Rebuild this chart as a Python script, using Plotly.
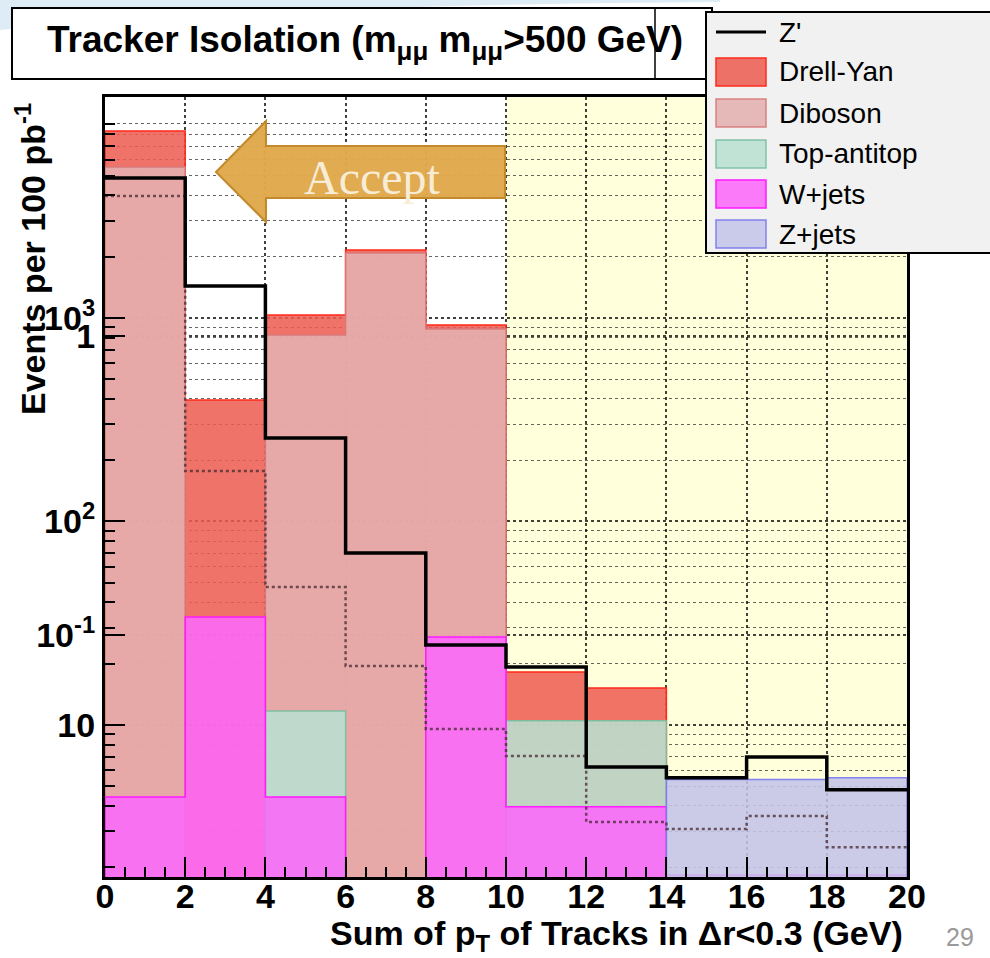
import plotly.graph_objects as go

# ---------------- data ----------------
bin_edges = [0, 2, 4, 6, 8, 10, 12, 14, 16, 18, 20]
x_tick_vals = [0, 2, 4, 6, 8, 10, 12, 14, 16, 18, 20]
x_tick_labels = ["0", "2", "4", "6", "8", "10", "12", "14", "16", "18", "20"]

drell_yan = [8300, 395, 1035, 2158, 924, 18.2, 15.2, 0, 0, 0]
diboson = [5520, 0, 825, 2084, 883, 0, 0, 0, 0, 0]
top_antitop = [0, 0, 11.7, 0, 0, 10.5, 10.5, 0, 0, 0]
w_jets = [4.43, 33.9, 4.43, 0, 27.1, 3.96, 3.96, 1.83, 1.83, 1.83]
z_jets = [0, 0, 0, 0, 0, 0, 0, 5.4, 5.4, 5.5]
z_prime = [4875, 1436, 257, 70.0, 24.7, 19.3, 6.22, 5.50, 6.97, 4.80]
z_prime_overlay = [3981, 177, 47.6, 19.5, 9.55, 7.04, 3.34, 3.08, 3.57, 2.51]

y_tick_vals = [10, 27.7, 100, 816, 1000]
y_tick_text = ["10", "10<sup>-1</sup>", "10<sup>2</sup>", "1", "10<sup>3</sup>"]

legend_names = ["Z'", "Drell-Yan", "Diboson", "Top-antitop", "W+jets", "Z+jets"]

# ---------------- styling ----------------
FILL = {
    "Drell-Yan": ("rgba(238,92,82,0.86)", "#ff2a1a"),
    "Diboson": ("rgba(228,176,176,0.88)", "rgba(215,120,120,0.9)"),
    "Top-antitop": ("rgba(186,224,208,0.88)", "rgba(120,190,160,0.9)"),
    "W+jets": ("rgba(250,105,250,0.88)", "#ff1aff"),
    "Z+jets": ("rgba(196,196,232,0.88)", "rgba(120,120,240,0.9)"),
}
SERIES = [("Drell-Yan", drell_yan), ("Diboson", diboson), ("Top-antitop", top_antitop),
          ("W+jets", w_jets), ("Z+jets", z_jets)]

W, H = 990, 958
L, R, T, B = 105, 907, 97, 877
BASE = 0.5


def px(x):
    return (x - L) / (R - L)


def py(y):
    return (B - y) / (B - T)


def step_polygon(edges, values, base):
    xs, ys = [edges[0]], [base]
    for i, v in enumerate(values):
        h = v if v > 0 else base
        xs += [edges[i], edges[i + 1]]
        ys += [h, h]
    xs.append(edges[-1])
    ys.append(base)
    return xs, ys


def step_line(edges, values):
    xs, ys = [], []
    for i, v in enumerate(values):
        xs += [edges[i], edges[i + 1]]
        ys += [v, v]
    return xs, ys


fig = go.Figure()

for name, vals in SERIES:
    xs, ys = step_polygon(bin_edges, vals, BASE)
    fc, lc = FILL[name]
    fig.add_trace(go.Scatter(x=xs, y=ys, mode="lines", fill="toself", fillcolor=fc,
                             line=dict(color=lc, width=1.5), name=name,
                             showlegend=False, hoverinfo="skip"))

xs, ys = step_line(bin_edges, z_prime_overlay)
fig.add_trace(go.Scatter(x=xs, y=ys, mode="lines",
                         line=dict(color="rgba(70,40,50,0.75)", width=2.5, dash="dot"),
                         showlegend=False, hoverinfo="skip"))
xs, ys = step_line(bin_edges, z_prime)
fig.add_trace(go.Scatter(x=xs, y=ys, mode="lines", line=dict(color="black", width=3.5),
                         name="Z'", showlegend=False, hoverinfo="skip"))

shapes = []
annotations = []


def note(x, y, text, size, color="black", family="Liberation Sans", weight="normal",
         xanchor="center", angle=0):
    annotations.append(dict(xref="paper", yref="paper", x=px(x), y=py(y), xanchor=xanchor,
                            yanchor="middle", showarrow=False, text=text, textangle=angle,
                            font=dict(family=family, size=size, color=color, weight=weight)))


# slide decoration (faint light blue swoosh at the top)
shapes.append(dict(type="path", xref="paper", yref="paper",
                   path=(f"M {px(0)},{py(0)} L {px(720)},{py(0)} L {px(720)},{py(2)} "
                         f"Q {px(250)},{py(5)} {px(0)},{py(30)} Z"),
                   fillcolor="rgba(160,200,228,0.35)", line=dict(width=0)))

# yellow "reject" region
shapes.append(dict(type="rect", xref="x", yref="paper", x0=10, x1=20, y0=0, y1=1,
                   fillcolor="#ffffdc", line=dict(width=0), layer="below"))

# title box
shapes.append(dict(type="rect", xref="paper", yref="paper", x0=px(12), x1=px(712),
                   y0=py(79), y1=py(8), fillcolor="white", line=dict(color="black", width=2)))
shapes.append(dict(type="line", xref="paper", yref="paper", x0=px(655), x1=px(655),
                   y0=py(79), y1=py(8), line=dict(color="black", width=1.5)))
note(365, 42, "Tracker Isolation (m<sub>μμ</sub> m<sub>μμ</sub>>500 GeV)", 37, weight="bold")

# Accept arrow
pts = [(216, 172), (266, 121), (266, 146), (505, 146), (505, 198), (266, 198), (266, 222)]
path = "M " + " L ".join(f"{px(a):.5f},{py(b):.5f}" for a, b in pts) + " Z"
shapes.append(dict(type="path", xref="paper", yref="paper", path=path,
                   fillcolor="rgba(224,168,76,0.97)", line=dict(color="#c28a2a", width=2)))
note(372, 178, "Accept", 48, color="#f7ecd6", family="Liberation Serif")

# legend box (manual)
shapes.append(dict(type="rect", xref="paper", yref="paper", x0=px(706), x1=px(1000),
                   y0=py(253), y1=py(12), fillcolor="#f1f1f1", line=dict(color="black", width=2)))
row_y = [32, 72, 113, 154, 194, 234]
for name, yy in zip(legend_names, row_y):
    if name == "Z'":
        shapes.append(dict(type="line", xref="paper", yref="paper", x0=px(716), x1=px(766),
                           y0=py(yy), y1=py(yy), line=dict(color="black", width=3)))
    else:
        fc, lc = FILL[name]
        shapes.append(dict(type="rect", xref="paper", yref="paper", x0=px(716), x1=px(766),
                           y0=py(yy + 14), y1=py(yy - 14), fillcolor=fc,
                           line=dict(color=lc, width=1.5)))
    note(777, yy, name, 28, xanchor="left")

# axis titles and page number
note(905, 935, "Sum of p<sub>T</sub> of Tracks in Δr&lt;0.3 (GeV)", 34, weight="bold",
     xanchor="right")
note(30, 259, "Events per 100 pb<sup>-1</sup>", 34, weight="bold", angle=-90)
note(960, 937, "29", 25, color="#9a9a9a")

minor_y = [m * 10 ** e for e in range(0, 5) for m in range(2, 10)]

fig.update_layout(
    width=W, height=H,
    margin=dict(l=L, r=W - R, t=T, b=H - B, pad=0),
    paper_bgcolor="white", plot_bgcolor="white",
    shapes=shapes, annotations=annotations, showlegend=False,
    xaxis=dict(range=[0, 20], tickmode="array", tickvals=x_tick_vals, ticktext=x_tick_labels,
               ticks="inside", ticklen=20, tickwidth=2, tickcolor="black",
               ticklabelstandoff=-13,
               showline=True, linewidth=3, linecolor="black", mirror=True,
               showgrid=True, gridcolor="rgba(0,0,0,0.75)", griddash="dot", gridwidth=1.5,
               zeroline=False,
               minor=dict(dtick=0.5, ticks="inside", ticklen=10, tickcolor="black", showgrid=False),
               tickfont=dict(family="Liberation Sans", size=34, color="black", weight="bold")),
    yaxis=dict(type="log", range=[0.253, 4.086], tickmode="array", tickvals=y_tick_vals,
               ticktext=y_tick_text, ticks="inside", ticklen=20, tickwidth=2, tickcolor="black",
               showline=True, linewidth=3, linecolor="black", mirror=True,
               showgrid=True, gridcolor="rgba(0,0,0,0.75)", griddash="dot", gridwidth=1.5,
               zeroline=False,
               minor=dict(tickmode="array", tickvals=minor_y, ticks="inside", ticklen=10,
                          tickcolor="black", showgrid=True, gridcolor="rgba(0,0,0,0.6)",
                          griddash="dot", gridwidth=1),
               tickfont=dict(family="Liberation Sans", size=34, color="black", weight="bold")),
)

fig.write_html("out.html")
